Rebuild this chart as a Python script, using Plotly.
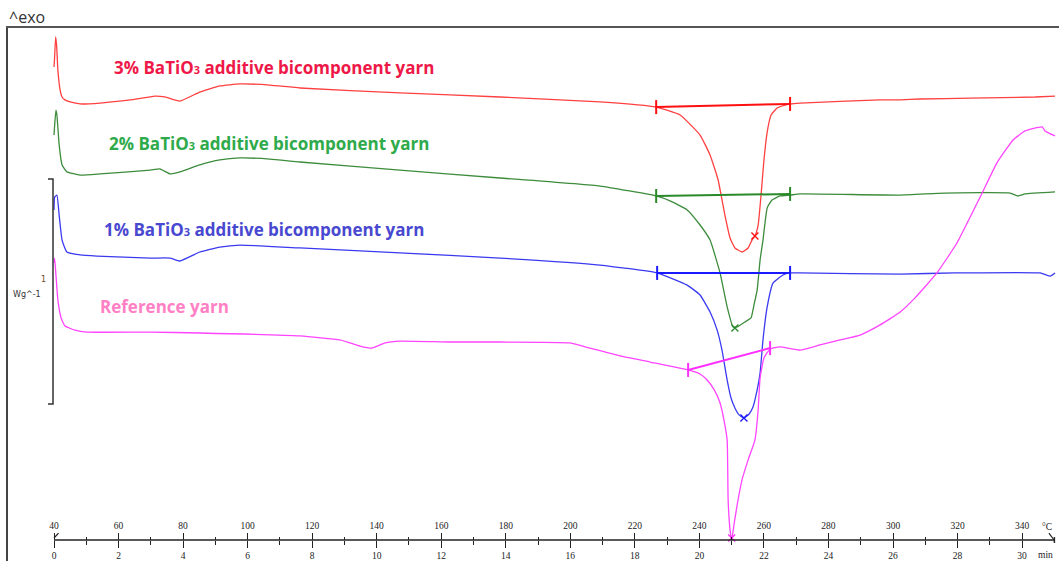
import plotly.graph_objects as go

W, H = 1059, 561

# ---------------- data (time in min, heat flow in W/g, displayed with offsets) -------------
red_t = [0, 0.02, 0.05, 0.08, 0.12, 0.19, 0.25, 0.34, 0.50, 0.81, 1.43, 2.36, 3.13, 3.44, 3.90, 4.52,
         5.14, 5.76, 6.69, 7.62, 10.72, 13.82, 16.92, 18.66, 19.40, 20.02, 20.33, 20.58, 20.79, 20.95,
         21.10, 21.32, 21.51, 21.63, 21.72, 21.82, 21.91, 22.00, 22.10, 22.22, 22.41, 22.65, 22.81,
         23.12, 25.60, 26.22, 26.84, 28.39, 30.40, 31.02]
red_v = [2.102, 2.147, 2.236, 2.200, 2.089, 2.000, 1.969, 1.956, 1.947, 1.938, 1.942, 1.956, 1.973,
         1.969, 1.951, 1.991, 2.018, 2.027, 2.022, 2.009, 1.987, 1.969, 1.947, 1.924, 1.889, 1.800,
         1.711, 1.600, 1.444, 1.342, 1.298, 1.280, 1.298, 1.333, 1.351, 1.400, 1.533, 1.689, 1.813,
         1.889, 1.920, 1.933, 1.938, 1.942, 1.956, 1.956, 1.960, 1.964, 1.969, 1.973]

green_t = [0, 0.02, 0.06, 0.09, 0.16, 0.25, 0.40, 0.81, 1.43, 2.98, 3.28, 3.60, 3.90, 4.52, 5.14, 5.76,
           6.69, 7.62, 10.72, 13.82, 16.92, 18.66, 19.09, 19.62, 20.02, 20.33, 20.64, 20.86, 21.04,
           21.17, 21.41, 21.60, 21.69, 21.79, 21.88, 21.97, 22.10, 22.25, 22.50, 22.81, 23.12, 26.22,
           27.61, 29.63, 29.87, 30.09, 31.02]
green_v = [1.800, 1.844, 1.911, 1.889, 1.756, 1.667, 1.636, 1.622, 1.627, 1.644, 1.649, 1.627, 1.636,
           1.667, 1.689, 1.698, 1.693, 1.680, 1.644, 1.609, 1.573, 1.529, 1.507, 1.467, 1.400, 1.333,
           1.187, 1.036, 0.947, 0.947, 0.969, 0.987, 1.044, 1.111, 1.244, 1.333, 1.476, 1.511, 1.529,
           1.533, 1.538, 1.533, 1.542, 1.542, 1.529, 1.538, 1.547]

blue_t = [0, 0.02, 0.09, 0.16, 0.25, 0.40, 0.81, 1.33, 2.98, 3.60, 3.90, 4.52, 5.14, 5.76, 7.62, 10.72,
          13.82, 16.92, 18.69, 19.62, 20.02, 20.33, 20.55, 20.70, 20.86, 20.98, 21.10, 21.23, 21.38,
          21.54, 21.66, 21.79, 21.88, 21.97, 22.10, 22.28, 22.59, 22.81, 23.12, 26.22, 27.92, 30.56,
          30.74, 30.87, 31.02]
blue_v = [1.467, 1.524, 1.533, 1.444, 1.333, 1.280, 1.267, 1.262, 1.253, 1.253, 1.240, 1.280, 1.302,
          1.311, 1.298, 1.276, 1.253, 1.222, 1.187, 1.133, 1.089, 1.013, 0.933, 0.844, 0.711, 0.631,
          0.587, 0.556, 0.542, 0.560, 0.591, 0.667, 0.742, 0.889, 1.036, 1.142, 1.178, 1.187, 1.187,
          1.182, 1.187, 1.187, 1.178, 1.173, 1.187]

pink_t = [0, 0.02, 0.06, 0.12, 0.22, 0.34, 0.65, 1.02, 2.98, 4.52, 7.62, 8.86, 9.48, 9.85, 10.26, 10.72,
          12.27, 13.82, 15.99, 16.61, 17.54, 18.47, 19.65, 20.02, 20.24, 20.46, 20.64, 20.76, 20.86,
          20.89, 20.95, 21.00, 21.07, 21.17, 21.32, 21.51, 21.72, 21.82, 21.88, 22.00, 22.19, 22.50,
          23.12, 23.74, 24.36, 24.98, 25.60, 26.22, 26.68, 27.36, 27.98, 28.70, 29.22, 29.72, 30.09,
          30.62, 30.71, 31.02]
pink_v = [1.231, 1.253, 1.178, 1.067, 0.987, 0.951, 0.933, 0.924, 0.924, 0.920, 0.907, 0.889, 0.862,
          0.853, 0.876, 0.884, 0.880, 0.880, 0.876, 0.853, 0.818, 0.791, 0.756, 0.738, 0.711, 0.667,
          0.609, 0.533, 0.444, 0.178, 0.044, 0.000, 0.067, 0.156, 0.267, 0.356, 0.444, 0.578, 0.720,
          0.809, 0.849, 0.858, 0.844, 0.867, 0.889, 0.911, 0.956, 1.013, 1.076, 1.187, 1.320, 1.524,
          1.676, 1.778, 1.818, 1.836, 1.818, 1.796]

# integration limits (start, end) and peak points
red_lim_t, red_lim_v = [18.66, 22.81], [1.924, 1.938]
green_lim_t, green_lim_v = [18.66, 22.81], [1.529, 1.538]
blue_lim_t, blue_lim_v = [18.69, 22.81], [1.187, 1.187]
pink_lim_t, pink_lim_v = [19.65, 22.19], [0.756, 0.853]
peak_t = [21.72, 21.10, 21.38, 21.00]
peak_v = [1.351, 0.942, 0.542, 0.009]

labels = ["3% BaTiO<span style='font-size:11px'>3</span> additive bicomponent yarn",
          "2% BaTiO<span style='font-size:11px'>3</span> additive bicomponent yarn",
          "1% BaTiO<span style='font-size:11px'>3</span> additive bicomponent yarn",
          "Reference yarn"]
label_t = [1.80, 1.64, 1.49, 1.36]
label_v = [2.102, 1.764, 1.378, 1.036]

min_ticks = list(range(0, 31, 2))
min_minor = list(range(1, 31, 2))
temp_ticks = list(range(40, 341, 20))
temp_minor = list(range(50, 341, 20))

scale_bar_t = [-0.186, -0.031, -0.031, -0.186]
scale_bar_v = [1.604, 1.604, 0.604, 0.604]

# ---------------- styling ----------------
curve_cols = ["#ff4040", "#3c8c3c", "#3a3af0", "#ff44ff"]
base_cols = ["#ff1010", "#2a8a2a", "#1a1aff", "#ff30ff"]
label_cols = ["#ee1848", "#2eaa4a", "#4848d0", "#ff80c4"]

x_lo, x_hi = -1.4255, 31.143
y_lo, y_hi = -0.0933, 2.2756
t_lo, t_hi = 40 + 10 * x_lo, 40 + 10 * x_hi

fig = go.Figure()
curves = [(red_t, red_v), (green_t, green_v), (blue_t, blue_v), (pink_t, pink_v)]
lims = [(red_lim_t, red_lim_v), (green_lim_t, green_lim_v), (blue_lim_t, blue_lim_v), (pink_lim_t, pink_lim_v)]

for i, (tt, vv) in enumerate(curves):
    fig.add_trace(go.Scatter(x=tt, y=vv, mode="lines",
                             line=dict(color=curve_cols[i], width=1.3, shape="spline", smoothing=0.4),
                             hoverinfo="skip"))
for i, (tt, vv) in enumerate(lims):
    fig.add_trace(go.Scatter(x=tt, y=vv, mode="lines+markers",
                             line=dict(color=base_cols[i], width=2),
                             marker=dict(symbol="line-ns", size=10,
                                         line=dict(color=base_cols[i], width=2)),
                             hoverinfo="skip"))
    fig.add_trace(go.Scatter(x=[peak_t[i]], y=[peak_v[i]], mode="markers",
                             marker=dict(symbol="x-thin", size=7,
                                         line=dict(color=base_cols[i], width=1.3)),
                             hoverinfo="skip"))

# scale bar
fig.add_trace(go.Scatter(x=scale_bar_t, y=scale_bar_v, mode="lines",
                         line=dict(color="#333333", width=1.5), hoverinfo="skip"))
# time axis line with end marks
fig.add_trace(go.Scatter(x=[0, 31.02], y=[0, 0], mode="lines",
                         line=dict(color="#222222", width=1.5), hoverinfo="skip"))
fig.add_trace(go.Scatter(x=[0, 0.14], y=[0.009, 0.031], mode="lines",
                         line=dict(color="#222222", width=1.2), hoverinfo="skip"))
fig.add_trace(go.Scatter(x=[30.83, 30.99], y=[0.031, 0.0], mode="lines",
                         line=dict(color="#222222", width=1.2), hoverinfo="skip"))
fig.add_trace(go.Scatter(x=[31.0, 31.0], y=[0.013, -0.013], mode="lines",
                         line=dict(color="#222222", width=1.5), hoverinfo="skip"))
# helpers so the overlaying axes are drawn
fig.add_trace(go.Scatter(x=[t_lo], y=[y_lo], xaxis="x2", mode="markers",
                         marker=dict(opacity=0), hoverinfo="skip"))
fig.add_trace(go.Scatter(x=[x_lo], y=[y_lo], xaxis="x3", mode="markers",
                         marker=dict(opacity=0), hoverinfo="skip"))

annots = []
for i in range(4):
    annots.append(dict(x=label_t[i], y=label_v[i], xref="x", yref="y", text="<b>%s</b>" % labels[i],
                       showarrow=False, xanchor="left", yanchor="middle",
                       font=dict(family="Open Sans", size=17, color=label_cols[i])))
annots += [
    dict(x=7 / W, y=1 - 17 / H, xref="paper", yref="paper", text="^exo", showarrow=False,
         xanchor="left", yanchor="middle", font=dict(family="Open Sans", size=16, color="#333333")),
    dict(x=-0.34, y=1.156, xref="x", yref="y", text="1", showarrow=False,
         font=dict(family="DejaVu Sans", size=8, color="#6a4a20")),
    dict(x=-0.84, y=1.089, xref="x", yref="y", text="Wg^-1", showarrow=False,
         font=dict(family="DejaVu Sans", size=8, color="#333333")),
    dict(x=30.77, y=0.058, xref="x", yref="y", text="°C", showarrow=False,
         font=dict(family="Liberation Serif", size=9.5, color="#222222")),
    dict(x=30.71, y=-0.067, xref="x", yref="y", text="min", showarrow=False,
         font=dict(family="Liberation Serif", size=9.5, color="#222222")),
]

tickfont = dict(family="Liberation Serif", size=9.5, color="#222222")
fig.update_layout(
    width=W, height=H, margin=dict(l=0, r=0, t=0, b=0),
    paper_bgcolor="white", plot_bgcolor="white", showlegend=False,
    xaxis=dict(domain=[8 / W, 1], range=[x_lo, x_hi], anchor="free", position=1 - 540 / H,
               showline=False, showgrid=False, zeroline=False,
               tickmode="array", tickvals=min_ticks, ticktext=[str(v) for v in min_ticks],
               ticks="outside", ticklen=7, tickwidth=1.3, tickcolor="#222222", tickfont=tickfont,
               minor=dict(tickmode="array", tickvals=min_minor, ticks="outside", ticklen=4,
                          tickwidth=1.2, tickcolor="#222222", showgrid=False)),
    xaxis2=dict(overlaying="x", range=[t_lo, t_hi], anchor="free", position=1 - 540 / H, side="top",
                showline=False, showgrid=False, zeroline=False,
                tickmode="array", tickvals=temp_ticks, ticktext=[str(v) for v in temp_ticks],
                ticks="outside", ticklen=7, tickwidth=1.3, tickcolor="#222222", tickfont=tickfont,
                minor=dict(tickmode="array", tickvals=temp_minor, ticks="outside", ticklen=3,
                           tickwidth=1.2, tickcolor="#222222", showgrid=False)),
    xaxis3=dict(overlaying="x", range=[x_lo, x_hi], anchor="y", side="top", showline=True,
                linecolor="#555555", linewidth=2, showticklabels=False, ticks="",
                showgrid=False, zeroline=False),
    yaxis=dict(domain=[0, 533 / H], range=[y_lo, y_hi], showline=True, linecolor="#444444",
               linewidth=2, showticklabels=False, ticks="", showgrid=False, zeroline=False),
    annotations=annots,
)

fig.write_html("out.html", config={"displayModeBar": False},
               post_script="document.body.style.margin='0px';document.body.style.overflow='hidden';")
